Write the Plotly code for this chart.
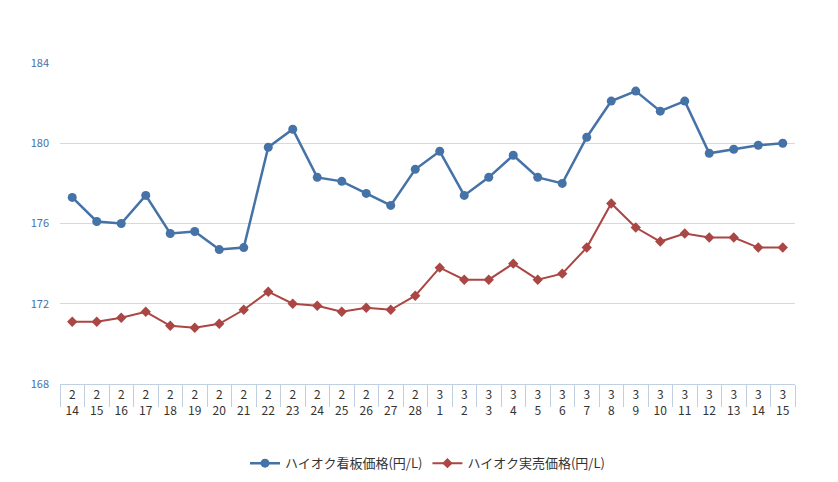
import plotly.graph_objects as go

months = ["2"]*15 + ["3"]*15
days = list(range(14, 29)) + list(range(1, 16))
labels = [f"{m}<br>{d}" for m, d in zip(months, days)]
blue = [177.3, 176.1, 176.0, 177.4, 175.5, 175.6, 174.7, 174.8, 179.8, 180.7, 178.3, 178.1, 177.5, 176.9, 178.7,
        179.6, 177.4, 178.3, 179.4, 178.3, 178.0, 180.3, 182.1, 182.6, 181.6, 182.1, 179.5, 179.7, 179.9, 180.0]
red = [171.1, 171.1, 171.3, 171.6, 170.9, 170.8, 171.0, 171.7, 172.6, 172.0, 171.9, 171.6, 171.8, 171.7, 172.4,
       173.8, 173.2, 173.2, 174.0, 173.2, 173.5, 174.8, 177.0, 175.8, 175.1, 175.5, 175.3, 175.3, 174.8, 174.8]
name_blue = "ハイオク看板価格(円/L)"
name_red = "ハイオク実売価格(円/L)"

fig = go.Figure()
fig.add_trace(go.Scatter(x=labels, y=blue, name=name_blue, mode="lines+markers",
                         line=dict(color="#4572A7", width=2.5), marker=dict(symbol="circle", size=9, color="#4572A7")))
fig.add_trace(go.Scatter(x=labels, y=red, name=name_red, mode="lines+markers",
                         line=dict(color="#AA4643", width=2), marker=dict(symbol="diamond", size=8, color="#AA4643")))
fig.update_layout(
    width=838, height=482, plot_bgcolor="white", paper_bgcolor="white",
    margin=dict(l=52, r=51, t=55, b=98),
    font=dict(family="Noto Sans CJK JP, sans-serif", size=12, color="#333"),
    legend=dict(orientation="h", x=0.5, xanchor="center", y=-0.2, yanchor="top", font=dict(size=13)),
    xaxis=dict(type="category", tickson="boundaries", ticks="outside", ticklen=22, tickcolor="#C0D0E0",
               showline=True, linecolor="#C0D0E0", showgrid=False, tickfont=dict(size=12, color="#333"),
               range=[-0.5, 29.5]),
    yaxis=dict(range=[168, 184], tickvals=[168, 172, 176, 180, 184], gridcolor="#D8D8D8",
               tickfont=dict(size=11, color="#4572A7"), zeroline=False, ticklabelstandoff=10),
)
fig.write_html("out.html")
